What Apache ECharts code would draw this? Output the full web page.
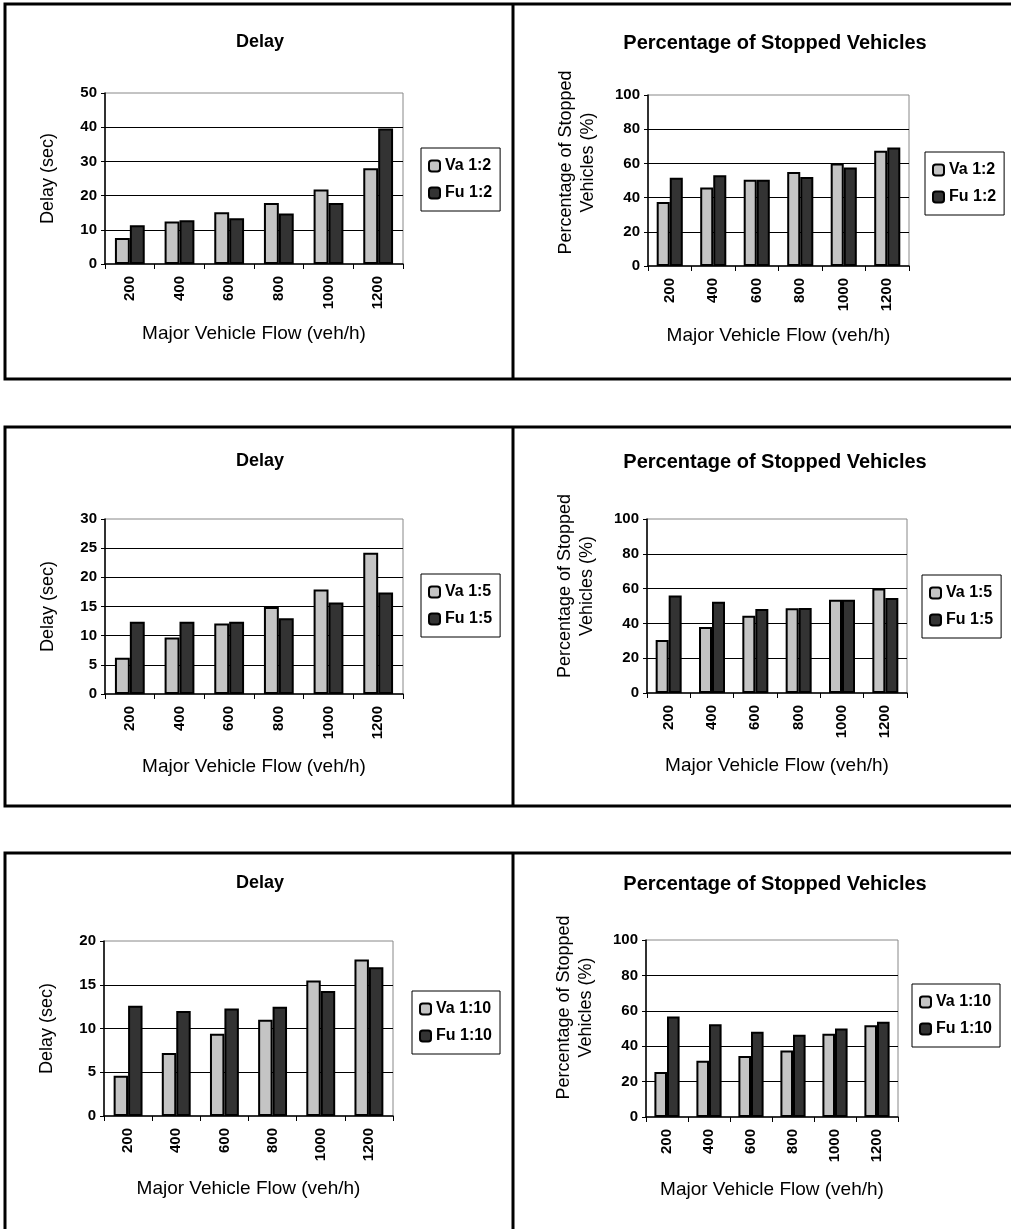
<!DOCTYPE html>
<html>
<head>
<meta charset="utf-8">
<script src="https://cdn.jsdelivr.net/npm/echarts@6/dist/echarts.min.js"></script>
<style>
html,body{margin:0;padding:0;background:#fff;}
#chart{width:1011px;height:1229px;}
</style>
</head>
<body>
<div id="chart"></div>
<script>
// ---- data ----
const categories = ['200', '400', '600', '800', '1000', '1200'];

const delayVa12 = [7.6, 12.4, 15.1, 17.8, 21.8, 28.0];
const delayFu12 = [11.3, 12.8, 13.4, 14.8, 17.8, 39.6];
const stopVa12  = [37.5, 45.9, 50.4, 54.9, 60.0, 67.4];
const stopFu12  = [51.6, 53.1, 50.4, 52.1, 57.6, 69.3];

const delayVa15 = [6.2, 9.7, 12.1, 14.9, 17.9, 24.2];
const delayFu15 = [12.4, 12.4, 12.4, 13.0, 15.7, 17.4];
const stopVa15  = [30.5, 37.9, 44.4, 48.7, 53.6, 60.0];
const stopFu15  = [56.1, 52.5, 48.3, 48.9, 53.6, 54.6];

const delayVa110 = [4.6, 7.2, 9.4, 11.0, 15.5, 17.9];
const delayFu110 = [12.6, 12.0, 12.3, 12.5, 14.3, 17.0];
const stopVa110  = [25.4, 31.8, 34.4, 37.6, 47.0, 51.9];
const stopFu110  = [56.8, 52.4, 48.1, 46.4, 50.0, 53.8];

const seriesNames12  = ['Va 1:2', 'Fu 1:2'];
const seriesNames15  = ['Va 1:5', 'Fu 1:5'];
const seriesNames110 = ['Va 1:10', 'Fu 1:10'];

const delayTitle = 'Delay';
const stopTitle = 'Percentage of Stopped Vehicles';
const delayAxisName = 'Delay (sec)';
const stopAxisName = 'Percentage of Stopped\nVehicles (%)';
const xAxisName = 'Major Vehicle Flow (veh/h)';

const delayMax12 = 50, delayStep12 = 10;
const delayMax15 = 30, delayStep15 = 5;
const delayMax110 = 20, delayStep110 = 5;
const stopMax = 100, stopStep = 20;

// ---- layout ----
const FONT = 'Arial, "Liberation Sans", Helvetica, sans-serif';
const panels = [
  {grid:{left:105,top:93,width:298,height:171}, title:delayTitle, tSize:18, titleX:255, titleY:28, yName:delayAxisName, yGap:46, yPad:[0,0,0,0], xGap:60, max:delayMax12, step:delayStep12, names:seriesNames12, va:delayVa12, fu:delayFu12, legend:{left:421,top:148}},
  {grid:{left:648,top:95,width:261,height:171}, title:stopTitle, tSize:20, titleX:770, titleY:28, yName:stopAxisName, yGap:49, yPad:[0,0,0,36], xGap:60, max:stopMax, step:stopStep, names:seriesNames12, va:stopVa12, fu:stopFu12, legend:{left:925,top:152}},
  {grid:{left:105,top:519,width:298,height:175}, title:delayTitle, tSize:18, titleX:255, titleY:447, yName:delayAxisName, yGap:46, yPad:[0,0,0,0], xGap:63, max:delayMax15, step:delayStep15, names:seriesNames15, va:delayVa15, fu:delayFu15, legend:{left:421,top:574}},
  {grid:{left:647,top:519,width:260,height:174}, title:stopTitle, tSize:20, titleX:770, titleY:447, yName:stopAxisName, yGap:49, yPad:[0,0,0,40], xGap:63, max:stopMax, step:stopStep, names:seriesNames15, va:stopVa15, fu:stopFu15, legend:{left:922,top:575}},
  {grid:{left:104,top:941,width:289,height:175}, title:delayTitle, tSize:18, titleX:255, titleY:869, yName:delayAxisName, yGap:46, yPad:[0,0,0,0], xGap:63, max:delayMax110, step:delayStep110, names:seriesNames110, va:delayVa110, fu:delayFu110, legend:{left:412,top:991}},
  {grid:{left:646,top:940,width:252,height:177}, title:stopTitle, tSize:20, titleX:770, titleY:869, yName:stopAxisName, yGap:49, yPad:[0,0,0,42], xGap:63, max:stopMax, step:stopStep, names:seriesNames110, va:stopVa110, fu:stopFu110, legend:{left:912,top:984}}
];

const option = {
  animation: false,
  backgroundColor: '#fff',
  textStyle: {fontFamily: FONT, color: '#000'},
  title: [], legend: [], grid: [], xAxis: [], yAxis: [], series: [],
  graphic: []
};

panels.forEach((p, i) => {
  option.title.push({
    text: p.title, left: p.titleX, top: p.titleY, textAlign: 'center',
    textStyle: {fontFamily: FONT, fontSize: p.tSize, fontWeight: 'bold', color: '#000'}
  });
  option.grid.push(Object.assign({show: true, borderColor: '#888', borderWidth: 1, backgroundColor: '#fff'}, p.grid));
  option.xAxis.push({
    type: 'category', gridIndex: i, data: categories,
    axisLine: {lineStyle: {color: '#000', width: 1.5}},
    axisTick: {show: true, length: 5, lineStyle: {color: '#000', width: 1}},
    axisLabel: {rotate: 90, fontSize: 15, fontWeight: 'bold', color: '#000', fontFamily: FONT, margin: 12},
    name: xAxisName, nameLocation: 'middle', nameGap: p.xGap,
    nameTextStyle: {fontSize: 19, color: '#000', fontFamily: FONT}
  });
  option.yAxis.push({
    type: 'value', gridIndex: i, min: 0, max: p.max, interval: p.step,
    axisLine: {show: true, lineStyle: {color: '#000', width: 1.5}},
    axisTick: {show: true, length: 4, lineStyle: {color: '#000'}},
    axisLabel: {fontSize: 15, fontWeight: 'bold', color: '#000', fontFamily: FONT, margin: 8},
    splitLine: {show: true, showMinLine: false, showMaxLine: false, lineStyle: {color: '#000', width: 1.2}},
    name: p.yName, nameLocation: 'middle', nameGap: p.yGap,
    nameTextStyle: {fontSize: 18, color: '#000', fontFamily: FONT, lineHeight: 22, padding: p.yPad}
  });
  option.legend.push({
    show: true, orient: 'vertical', left: p.legend.left, top: p.legend.top,
    data: p.names, itemWidth: 11, itemHeight: 11, itemGap: 11,
    padding: [10, 8, 10, 7], borderColor: '#000', borderWidth: 1,
    backgroundColor: '#fff',
    textStyle: {fontSize: 16, fontWeight: 'bold', color: '#000', fontFamily: FONT}
  });
  option.series.push({
    type: 'bar', name: p.names[0], xAxisIndex: i, yAxisIndex: i, data: p.va,
    barGap: '0%', barCategoryGap: '40%',
    itemStyle: {color: '#c4c4c4', borderColor: '#000', borderWidth: 2}
  });
  option.series.push({
    type: 'bar', name: p.names[1], xAxisIndex: i, yAxisIndex: i, data: p.fu,
    barGap: '0%', barCategoryGap: '40%',
    itemStyle: {color: '#333', borderColor: '#000', borderWidth: 2}
  });
});

// panel frames (decoration)
const frameStyle = {stroke: '#000', lineWidth: 3, fill: null};
[[4, 379], [427, 806], [853, 1235]].forEach(([t, b]) => {
  option.graphic.push({type: 'polyline', silent: true, shape: {points: [[1015, t], [5, t], [5, b], [1015, b]]}, style: frameStyle});
  option.graphic.push({type: 'line', silent: true, shape: {x1: 513, y1: t, x2: 513, y2: b}, style: frameStyle});
});

const chart = echarts.init(document.getElementById('chart'), null, {renderer: 'canvas'});
chart.setOption(option);
</script>
</body>
</html>
